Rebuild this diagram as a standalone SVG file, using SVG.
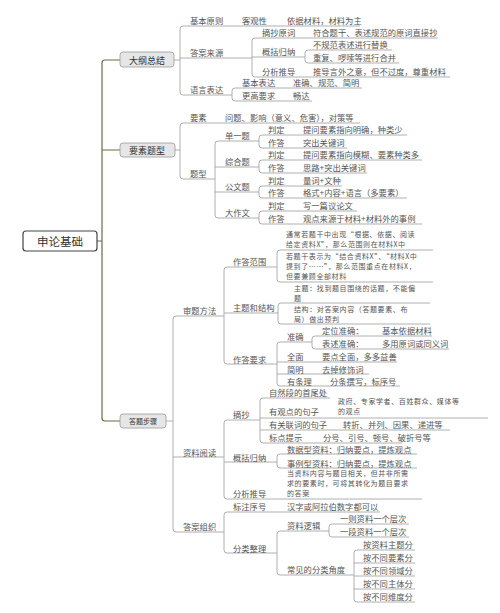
<svg xmlns="http://www.w3.org/2000/svg" width="500" height="613" viewBox="0 0 500 613">
<style>
.t{font-family:"Noto Sans CJK SC","Noto Sans",sans-serif;font-size:8.3px;fill:#555;dominant-baseline:central}
.s{font-family:"Noto Sans CJK SC","Noto Sans",sans-serif;font-size:7px;letter-spacing:0.6px;fill:#555;dominant-baseline:central}
.m{font-family:"Noto Sans CJK SC","Noto Sans",sans-serif;font-size:9px;fill:#333;dominant-baseline:central;text-anchor:middle}
.r{font-family:"Noto Sans CJK SC","Noto Sans",sans-serif;font-size:11.5px;fill:#333;dominant-baseline:central;text-anchor:middle}
.l{stroke:#9c9c9c;stroke-width:0.8;fill:none}
.k{stroke:#6e6a45;stroke-width:1.2;fill:none}
.b1{fill:#e6e6e6;stroke:#999;stroke-width:0.8}
</style>
<rect width="500" height="613" fill="#fff"/>
<g id="connectors">
<path class="k" d="M97 241H102M120 60H105Q102 60 102 63V418Q102 421 105 421H120M102 150H120"/>
<path class="l" d="M174 60H180M183 26Q180 26 180 29V92Q180 95 183 95M183 26H360M180 58H252M183 95H232
M255 38Q252 38 252 41V74Q252 77 255 77M255 38H438M252 57H305M255 77H450
M308 50Q305 50 305 53V60Q305 63 308 63M308 50H392M308 63H399
M235 88Q232 88 232 91V98Q232 101 235 101M235 88H362M235 101H312"/>
<path class="l" d="M175 150H180M183 123Q180 123 180 126V176Q180 179 183 179M183 123H360M183 179H215
M218 141Q215 141 215 144V215Q215 218 218 218M218 141H259M215 167H259M215 192H259M218 218H259
M262 135Q259 135 259 138V145Q259 148 262 148M262 135H407M262 148H347
M262 160Q259 160 259 163V170Q259 173 262 173M262 160H422M262 173H367
M262 186Q259 186 259 189V195Q259 198 262 198M262 186H342M262 198H407
M262 211Q259 211 259 214V221Q259 224 262 224M262 211H357M262 224H422"/>
<path class="l" d="M166 421H173M176 316Q173 316 173 319V529Q173 532 176 532M176 316H224M173 457H224M176 532H224
M227 267Q224 267 224 270V361Q224 364 227 364M227 267H277M224 313H278M227 364H277
M280 250Q277 250 277 253V279Q277 282 280 282M280 250H433M280 282H433
M281 303Q278 303 278 306V321Q278 324 281 324M281 303H430M281 324H430
M280 342Q277 342 277 345V383Q277 386 280 386M280 342H312M277 362H397M277 374H369M280 386H400
M315 336Q312 336 312 339V346Q312 349 315 349M315 336H432M315 349H449
M227 420Q224 420 224 423V496Q224 499 227 499M227 420H260M224 462H277M227 499H422
M263 398Q260 398 260 401V440Q260 443 263 443M263 398H330M260 418H488M260 430H450M263 443H402
M280 454Q277 454 277 457V465Q277 468 280 468M280 454H417M280 468H417
M227 512Q224 512 224 515V550Q224 553 227 553M227 512H380M227 553H277
M280 531Q277 531 277 534V572Q277 575 280 575M280 531H329M280 575H354
M332 524Q329 524 329 527V534Q329 537 332 537M332 524H409M332 537H409
M357 550Q354 550 354 553V599Q354 602 357 602M357 550H415M354 563H415M354 576H415M354 589H415M357 602H415"/>
</g>
<g id="root"><rect x="23" y="231" width="74" height="20" rx="3" fill="#fff" stroke="#444" stroke-width="1.2"/><text class="r" x="60" y="241">申论基础</text></g>
<g id="dagang"><rect class="b1" x="120" y="52" width="54" height="15" rx="3"/><text class="m" x="147" y="60">大纲总结</text></g>
<g id="jibenyuanze"><text class="t" x="190" y="20">基本原则</text><text class="t" x="242" y="20">客观性</text><text class="t" x="287" y="20">依据材料，材料为主</text></g>
<g id="daanlaiyuan"><text class="t" x="190" y="52">答案来源</text></g>
<g id="zhaochao"><text class="t" x="262" y="32">摘抄原词</text><text class="t" x="313" y="32">符合题干、表述规范的原词直接抄</text></g>
<g id="gaikuo1"><text class="t" x="262" y="51">概括归纳</text><text class="t" x="313" y="44">不规范表述进行替换</text><text class="t" x="313" y="57">重复、啰嗦等进行合并</text></g>
<g id="fenxi1"><text class="t" x="262" y="71">分析推导</text><text class="t" x="313" y="71">推导言外之意，但不过度，尊重材料</text></g>
<g id="yuyan"><text class="t" x="190" y="89">语言表达</text><text class="t" x="242" y="82">基本表达</text><text class="t" x="293" y="82">准确、规范、简明</text><text class="t" x="242" y="95">更高要求</text><text class="t" x="293" y="95">畅达</text></g>
<g id="yaosu"><rect class="b1" x="120" y="143" width="55" height="14" rx="3"/><text class="m" x="147" y="150">要素题型</text></g>
<g id="yaosu-item"><text class="t" x="190" y="117">要素</text><text class="t" x="225" y="117">问题、影响（意义、危害），对策等</text></g>
<g id="tixing"><text class="t" x="190" y="173">题型</text></g>
<g id="danyi"><text class="t" x="225" y="135">单一题</text><text class="t" x="268" y="129">判定</text><text class="t" x="303" y="129">提问要素指向明确，种类少</text><text class="t" x="268" y="142">作答</text><text class="t" x="303" y="142">突出关键词</text></g>
<g id="zonghe"><text class="t" x="225" y="161">综合题</text><text class="t" x="268" y="154">判定</text><text class="t" x="303" y="154">提问要素指向模糊、要素种类多</text><text class="t" x="268" y="167">作答</text><text class="t" x="303" y="167">思路+突出关键词</text></g>
<g id="gongwen"><text class="t" x="225" y="186">公文题</text><text class="t" x="268" y="180">判定</text><text class="t" x="303" y="180">量词+文种</text><text class="t" x="268" y="192">作答</text><text class="t" x="303" y="192">格式+内容+语言（多要素）</text></g>
<g id="dazuowen"><text class="t" x="225" y="212">大作文</text><text class="t" x="268" y="205">判定</text><text class="t" x="303" y="205">写一篇议论文</text><text class="t" x="268" y="218">作答</text><text class="t" x="303" y="218">观点来源于材料+材料外的事例</text></g>
<g id="dati"><rect class="b1" x="120" y="414" width="46" height="14" rx="3"/><text class="m" x="143" y="421" style="font-size:7px">答题步骤</text></g>
<g id="shenti"><text class="t" x="183" y="310">审题方法</text></g>
<g id="fanwei"><text class="t" x="233" y="261">作答范围</text>
<text class="s" x="286" y="234">通常若题干中出现“根据、依据、阅读</text><text class="s" x="286" y="244.2">给定资料X”，那么范围则在材料X中</text>
<text class="s" x="286" y="255.5">若题干表示为“结合资料X”、“材料X中</text><text class="s" x="286" y="265.7">提到了……”，那么范围重点在材料X，</text><text class="s" x="286" y="275.9">但要兼顾全部材料</text></g>
<g id="zhuti"><text class="t" x="233" y="307">主题和结构</text>
<text class="s" x="294" y="287.5">主题：找到题目围绕的话题，不能偏</text><text class="s" x="294" y="297.7">题</text>
<text class="s" x="294" y="308.5">结构：对答案内容（答题要素、布</text><text class="s" x="294" y="318.7">局）做出预判</text></g>
<g id="yaoqiu"><text class="t" x="233" y="359">作答要求</text>
<text class="t" x="287" y="336">准确</text><text class="t" x="322" y="330">定位准确：</text><text class="t" x="382" y="330">基本依据材料</text><text class="t" x="322" y="343">表述准确：</text><text class="t" x="382" y="343">多用原词或同义词</text>
<text class="t" x="287" y="356">全面</text><text class="t" x="322" y="356">要点全面，多多益善</text>
<text class="t" x="287" y="369">简明</text><text class="t" x="322" y="369">去掉修饰词</text>
<text class="t" x="287" y="381">有条理</text><text class="t" x="330" y="381">分条撰写，标序号</text></g>
<g id="yuedu"><text class="t" x="183" y="452">资料阅读</text></g>
<g id="zhaochao2"><text class="t" x="233" y="414">摘抄</text>
<text class="t" x="269" y="392">自然段的首尾处</text>
<text class="t" x="269" y="411">有观点的句子</text><text class="s" x="338" y="401">政府、专家学者、百姓群众、媒体等</text><text class="s" x="338" y="411.2">的观点</text>
<text class="t" x="269" y="424">有关联词的句子</text><text class="t" x="343" y="424">转折、并列、因果、递进等</text>
<text class="t" x="269" y="437">标点提示</text><text class="t" x="323" y="437">分号、引号、顿号、破折号等</text></g>
<g id="gaikuo2"><text class="t" x="233" y="457">概括归纳</text><text class="t" x="287" y="449">数据型资料：归纳要点，提炼观点</text><text class="t" x="287" y="463">事例型资料：归纳要点，提炼观点</text></g>
<g id="fenxi2"><text class="t" x="233" y="493">分析推导</text><text class="s" x="287" y="473">当资料内容与题目相关，但并非所需</text><text class="s" x="287" y="483.2">求的要素时，可将其转化为题目要求</text><text class="s" x="287" y="493.4">的答案</text></g>
<g id="zuzhi"><text class="t" x="183" y="526">答案组织</text></g>
<g id="xuhao"><text class="t" x="233" y="506">标注序号</text><text class="t" x="287" y="506">汉字或阿拉伯数字都可以</text></g>
<g id="fenlei"><text class="t" x="233" y="548">分类整理</text>
<text class="t" x="287" y="525">资料逻辑</text><text class="t" x="340" y="518">一则资料一个层次</text><text class="t" x="340" y="531">一段资料一个层次</text>
<text class="t" x="287" y="569">常见的分类角度</text>
<text class="t" x="363" y="544">按资料主题分</text><text class="t" x="363" y="557">按不同要素分</text><text class="t" x="363" y="570">按不同领域分</text><text class="t" x="363" y="583">按不同主体分</text><text class="t" x="363" y="596">按不同维度分</text></g>
</svg>
